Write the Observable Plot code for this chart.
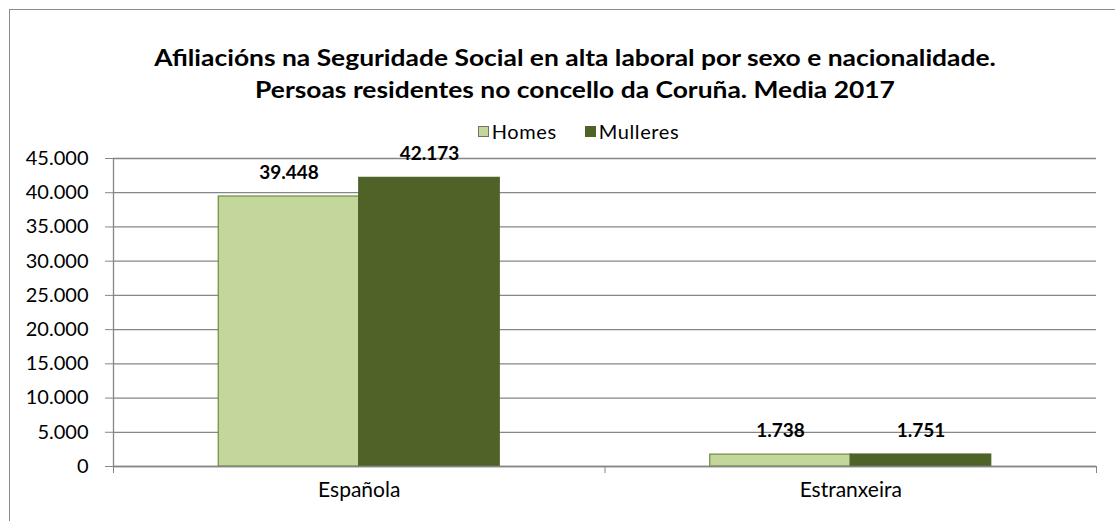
<!DOCTYPE html>
<html>
<head>
<meta charset="utf-8">
<script src="https://cdn.jsdelivr.net/npm/d3@7"></script>
<script src="https://cdn.jsdelivr.net/npm/@observablehq/plot@0.6"></script>
<style>
  html, body { margin: 0; padding: 0; background: #fff; }
  #wrap { position: relative; width: 1115px; height: 521px; overflow: hidden; font-family: Lato, "Open Sans", sans-serif; }
  #frame { position: absolute; left: 9px; top: 9px; width: 1300px; height: 700px; border: 1px solid #8c8c8c; }
  #title { position: absolute; left: 0; width: 1150px; top: 42px; text-align: center; font-weight: bold; font-size: 22px; line-height: 32px; color: #000; }
  #title div { transform: scaleX(1.2); transform-origin: 50% 50%; }
  #legend { position: absolute; left: 0; width: 1157px; top: 119px; display: flex; justify-content: center; font-size: 20px; color: #000; line-height: 24px; letter-spacing: 0.6px; }
  .item { display: flex; align-items: center; margin: 0 14px; }
  .sw { width: 11px; height: 11px; margin-right: 3px; box-sizing: border-box; border: 1px solid #666; }
  #chart { position: absolute; left: 0; top: 140px; }
  #chart svg text { font-family: Lato, "Open Sans", sans-serif; }
</style>
</head>
<body>
<div id="wrap">
  <div id="frame"></div>
  <div id="title"></div>
  <div id="legend"></div>
  <div id="chart"></div>
</div>
<script>
const titleLines = ["Afiliacións na Seguridade Social en alta laboral por sexo e nacionalidade.", "Persoas residentes no concello da Coruña. Media 2017"];
const categories = ["Española", "Estranxeira"];
const series = ["Homes", "Mulleres"];
const homes = [39448, 1738];
const mulleres = [42173, 1751];
const yTicks = [0, 5000, 10000, 15000, 20000, 25000, 30000, 35000, 40000, 45000];
const colors = ["#c3d69b", "#4f6228"];
const strokes = ["#6f8c3a", "#4f6228"];

const fmt = d3.formatLocale({decimal: ",", thousands: ".", grouping: [3], currency: ["", ""]}).format(",");

document.getElementById("title").innerHTML = titleLines.map(t => `<div>${t}</div>`).join("");
document.getElementById("legend").innerHTML = series.map((s, k) =>
  `<div class="item"><span class="sw" style="background:${colors[k]};border-color:${k === 0 ? "#707070" : colors[1]}"></span>${s}</div>`).join("");

const values = [homes, mulleres];
const rows = [];
categories.forEach((c, i) => series.forEach((s, k) => rows.push({cat: c, i, sex: s, k, value: values[k][i]})));

const W = 1115, H = 381;
const mL = 113, mR = 19, mT = 18, mB = 55;
const bandPx = (W - mL - mR) / categories.length;
const barFrac = 140.5 / bandPx; // bar width as fraction of a category band

const x1 = d => d.i + 0.5 - (d.k === 0 ? barFrac : 0);
const x2 = d => d.i + 0.5 + (d.k === 0 ? 0 : barFrac);
const xc = d => (x1(d) + x2(d)) / 2;

const plot = Plot.plot({
  width: W, height: H,
  marginLeft: mL, marginRight: mR, marginTop: mT, marginBottom: mB,
  x: {type: "linear", domain: [0, categories.length], axis: null},
  y: {domain: [0, 45000], axis: null},
  style: {fontSize: "17px", color: "#000", background: "transparent"},
  marks: [
    Plot.gridY(yTicks, {stroke: "#868686", strokeOpacity: 1, strokeWidth: 1.3}),
    Plot.axisY({ticks: yTicks, label: null, tickSize: 8, tickPadding: 17, tickFormat: fmt, stroke: "#868686", fill: "#000", fontSize: 20}),
    Plot.axisX({ticks: d3.range(categories.length + 1), label: null, tickSize: 7, tickFormat: () => "", stroke: "#868686"}),
    Plot.axisX({ticks: categories.map((_, i) => i + 0.5), label: null, tickSize: 0, tickPadding: 16, tickFormat: v => categories[Math.floor(v)], fill: "#000", fontSize: 21}),
    Plot.rect(rows, {x1, x2, y1: 0, y2: "value", fill: d => colors[d.k], stroke: d => strokes[d.k], strokeWidth: 1.2}),
    Plot.ruleX([0], {stroke: "#868686", strokeWidth: 1.3}),
    Plot.ruleY([0], {stroke: "#868686", strokeWidth: 1.3}),
    Plot.text(rows, {x: xc, y: "value", text: d => fmt(d.value), dy: -24, fontWeight: "bold", fontSize: 19, fill: "#000"})
  ]
});
document.getElementById("chart").appendChild(plot);
</script>
</body>
</html>
